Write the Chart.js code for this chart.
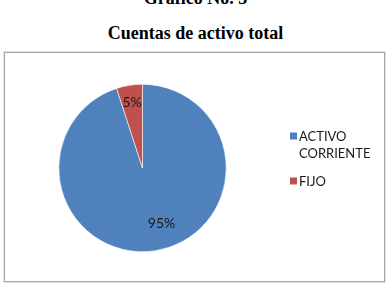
<!DOCTYPE html>
<html>
<head>
<meta charset="utf-8">
<script src="https://cdn.jsdelivr.net/npm/chart.js@4.4.0/dist/chart.umd.min.js"></script>
<style>
  html, body { margin: 0; padding: 0; background: #ffffff; width: 391px; height: 288px; overflow: hidden; }
  .t { position: absolute; left: 0; width: 391px; text-align: center; font-family: "Liberation Serif", "Times New Roman", serif; font-weight: bold; color: #000; white-space: nowrap; }
  #t1 { top: -13px; font-size: 18px; line-height: 22px; }
  #t2 { top: 22px; font-size: 18px; line-height: 22px; }
  #box { position: absolute; left: 4px; top: 52px; width: 379px; height: 228px; border: 1px solid #a6a6a6; box-shadow: 0 0 0 0.6px #cfcfcf; }
  #wrap { position: absolute; left: 0; top: 0; width: 391px; height: 288px; }
</style>
</head>
<body>
<div id="t1" class="t">Gráfico No. 3</div>
<div id="t2" class="t">Cuentas de activo total</div>
<div id="box"></div>
<div id="wrap"><canvas id="c" width="391" height="288"></canvas></div>
<script>
const categories = ["ACTIVO CORRIENTE", "FIJO"];
const legendLines = [["ACTIVO", "CORRIENTE"], ["FIJO"]];
const values = [95, 5];
const valueLabels = ["95%", "5%"];
const colors = ["#4F81BD", "#C0504D"];

// label placement styling (fraction of radius, angle shift in degrees)
const labelStyle = { radiusFrac: [0.70, 0.79], angleShift: [-10, 0] };

const pieLabels = {
  id: "pieLabels",
  afterDatasetsDraw(chart) {
    const ctx = chart.ctx;
    const meta = chart.getDatasetMeta(0);
    ctx.save();
    ctx.font = "14px Lato, 'Open Sans', sans-serif";
    ctx.fillStyle = "#1a1a1a";
    ctx.textAlign = "center";
    ctx.textBaseline = "middle";
    meta.data.forEach((arc, i) => {
      const p = arc.getProps(["x", "y", "startAngle", "endAngle", "outerRadius"], true);
      const mid = (p.startAngle + p.endAngle) / 2 + labelStyle.angleShift[i] * Math.PI / 180;
      const r = p.outerRadius * labelStyle.radiusFrac[i];
      ctx.fillText(valueLabels[i], p.x + Math.cos(mid) * r, p.y + Math.sin(mid) * r);
    });
    ctx.restore();
  }
};

const sideLegend = {
  id: "sideLegend",
  afterDraw(chart) {
    const ctx = chart.ctx;
    ctx.save();
    ctx.font = "13px Lato, 'Open Sans', sans-serif";
    ctx.textBaseline = "alphabetic";
    ctx.textAlign = "left";
    const x0 = 290, sq = 7, textX = 299;
    const startY = 141, lineH = 17, gap = 11;
    let y = startY;
    legendLines.forEach((lines, i) => {
      ctx.fillStyle = colors[i];
      ctx.fillRect(x0, y - 8.5, sq, sq);
      ctx.fillStyle = "#1a1a1a";
      lines.forEach((ln, j) => {
        ctx.fillText(ln, textX, y + j * lineH);
      });
      y += (lines.length - 1) * lineH + lineH + gap;
    });
    ctx.restore();
  }
};

new Chart(document.getElementById("c"), {
  type: "pie",
  data: {
    labels: categories,
    datasets: [{
      data: values,
      backgroundColor: colors,
      borderColor: "#ffffff",
      borderWidth: 0.6
    }]
  },
  options: {
    responsive: false,
    animation: false,
    layout: { padding: { left: 58.5, right: 164.5, top: 84, bottom: 36 } },
    plugins: {
      legend: { display: false },
      tooltip: { enabled: false },
      title: { display: false }
    }
  },
  plugins: [pieLabels, sideLegend]
});
</script>
</body>
</html>
